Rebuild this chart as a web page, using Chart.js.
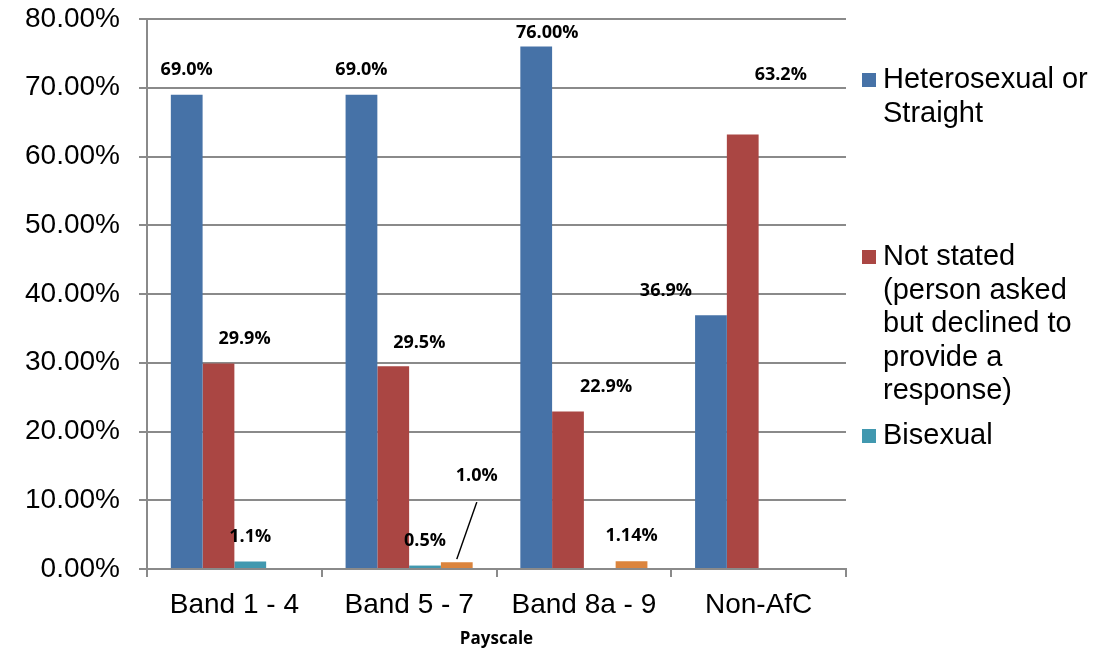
<!DOCTYPE html>
<html>
<head>
<meta charset="utf-8">
<script src="https://cdn.jsdelivr.net/npm/chart.js@4/dist/chart.umd.min.js"></script>
<style>
  html, body { margin: 0; padding: 0; background: #fff; }
  #wrap { position: relative; width: 1117px; height: 650px; }
  #legend { position: absolute; left: 0; top: 0; font-family: "Liberation Sans", Arial, sans-serif; font-size: 29px; line-height: 33.5px; color: #000; }
  .lg { position: absolute; left: 883px; white-space: nowrap; }
  .lg i { position: absolute; left: -21px; top: 11px; width: 14px; height: 14px; }
</style>
</head>
<body>
<div id="wrap">
  <canvas id="cv"></canvas>
  <div id="legend"></div>
</div>
<script>
// payscale bands and share of staff per group (%)
const bands = ['Band 1 - 4', 'Band 5 - 7', 'Band 8a - 9', 'Non-AfC'];
const hetero    = [69.0, 69.0, 76.00, 36.9];
const notStated = [29.9, 29.5, 22.9, 63.2];
const bisexual  = [1.1, 0.5, null, null];
const other     = [null, 1.0, 1.14, null];

// decimals shown on each value label
const heteroDp    = [1, 1, 2, 1];
const notStatedDp = [1, 1, 1, 1];
const bisexualDp  = [1, 1, 1, 1];
const otherDp     = [1, 1, 2, 1];

const yTicks = [0, 10, 20, 30, 40, 50, 60, 70, 80];

const COLS = ['#4672A7', '#AA4643', '#4198AF', '#DB843D'];

// legend entries (top offset of each block, px)
const legendItems = [
  { text: 'Heterosexual or<br>Straight', col: COLS[0], top: 62 },
  { text: 'Not stated<br>(person asked<br>but declined to<br>provide a<br>response)', col: COLS[1], top: 239 },
  { text: 'Bisexual', col: COLS[2], top: 417.5 }
];
document.getElementById('legend').innerHTML = legendItems.map(l =>
  `<div class="lg" style="top:${l.top}px"><i style="background:${l.col}"></i>${l.text}</div>`).join('');

// label nudges relative to bar top centre, keyed dataset-index
const nudge = {
  '0-2': [11, -14], '0-3': [-45, -24],
  '1-0': [26, -25], '1-1': [26, -23], '1-2': [38, -25], '1-3': [38, -60],
  '3-1': [20, -86]
};
const leader = { '3-1': true };

const valueLabels = {
  id: 'valueLabels',
  afterDatasetsDraw(chart) {
    const ctx = chart.ctx;
    ctx.save();
    ctx.font = 'bold 18px "Open Sans", sans-serif';
    ctx.fillStyle = '#000';
    ctx.textAlign = 'center';
    ctx.textBaseline = 'middle';
    chart.data.datasets.forEach((ds, di) => {
      const meta = chart.getDatasetMeta(di);
      meta.data.forEach((bar, i) => {
        const v = ds.data[i];
        if (v == null) return;
        const k = di + '-' + i;
        const [dx, dy] = nudge[k] || [0, -25];
        const x = bar.x + dx, y = bar.y + dy;
        if (leader[k]) {
          ctx.beginPath();
          ctx.moveTo(x, y + 26);
          ctx.lineTo(bar.x, bar.y - 3);
          ctx.strokeStyle = '#000'; ctx.lineWidth = 1.5; ctx.stroke();
        }
        ctx.fillText(v.toFixed(ds.dp[i]) + '%', x, y);
      });
    });
    ctx.restore();
  }
};

const gridCol = '#8a8a8a';

new Chart(document.getElementById('cv'), {
  type: 'bar',
  data: {
    labels: bands,
    datasets: [
      { label: 'Heterosexual or Straight', data: hetero, dp: heteroDp, backgroundColor: COLS[0] },
      { label: 'Not stated (person asked but declined to provide a response)', data: notStated, dp: notStatedDp, backgroundColor: COLS[1] },
      { label: 'Bisexual', data: bisexual, dp: bisexualDp, backgroundColor: COLS[2] },
      { label: 'Other', data: other, dp: otherDp, backgroundColor: COLS[3] }
    ]
  },
  options: {
    responsive: true,
    maintainAspectRatio: false,
    animation: false,
    categoryPercentage: 4 / 5.5,
    barPercentage: 1,
    layout: { padding: { top: 19, right: 271, bottom: 0, left: 0 } },
    plugins: { legend: { display: false }, tooltip: { enabled: false } },
    scales: {
      x: {
        grid: { display: true, drawOnChartArea: false, drawTicks: true, tickLength: 8, color: gridCol, lineWidth: 2 },
        border: { color: gridCol, width: 2 },
        ticks: { color: '#000', padding: 11, maxRotation: 0, font: { family: '"Liberation Sans", Arial, sans-serif', size: 28 } },
        title: { display: true, text: 'Payscale', color: '#000', padding: { top: 0, bottom: 1 }, font: { family: '"Open Sans", sans-serif', size: 17, weight: 'bold' } },
        afterFit(s) { s.height = 81; }
      },
      y: {
        min: 0, max: 80,
        afterBuildTicks(s) { s.ticks = yTicks.map(v => ({ value: v })); },
        grid: { color: gridCol, lineWidth: 2, drawTicks: true, tickLength: 8 },
        border: { color: gridCol, width: 2 },
        ticks: {
          color: '#000', padding: 19,
          font: { family: '"Liberation Sans", Arial, sans-serif', size: 28 },
          callback: v => v.toFixed(2) + '%'
        },
        afterFit(s) { s.width = 147; s.paddingTop = 0; s.paddingBottom = 0; }
      }
    }
  },
  plugins: [valueLabels]
});
</script>
</body>
</html>
